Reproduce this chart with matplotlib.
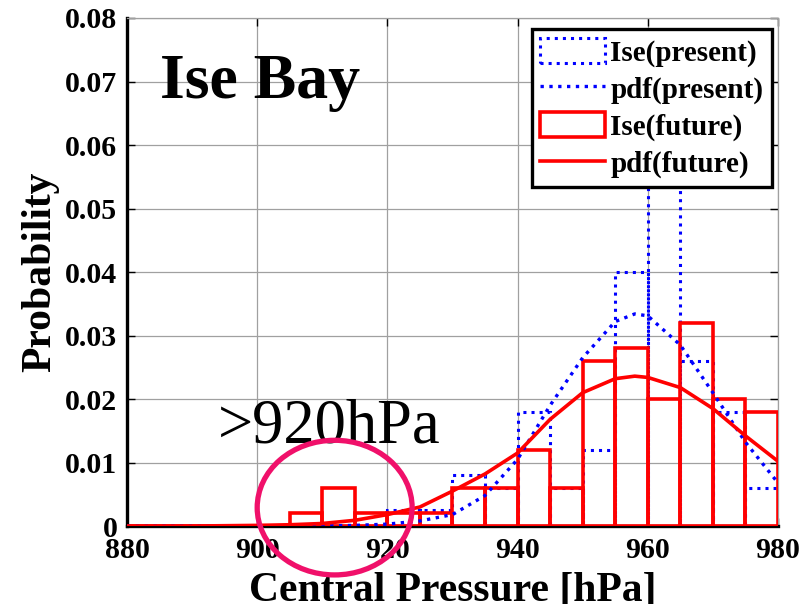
import numpy as np
import matplotlib
matplotlib.use("Agg")
import matplotlib.pyplot as plt
from matplotlib.patches import Ellipse

plt.rcParams['font.family'] = ['Liberation Serif', 'DejaVu Serif']

# histogram bins (left edges, 5 hPa wide)
bin_left = [880, 885, 890, 895, 900, 905, 910, 915, 920, 925,
            930, 935, 940, 945, 950, 955, 960, 965, 970, 975]
present_hist = [0, 0, 0, 0, 0, 0, 0, 0, 0.0025, 0.0025,
                0.008, 0.006, 0.018, 0.006, 0.012, 0.040, 0.058, 0.026, 0.018, 0.006]
future_hist = [0, 0, 0, 0, 0, 0.002, 0.006, 0.002, 0.002, 0.002,
               0.006, 0.006, 0.012, 0.006, 0.026, 0.028, 0.020, 0.032, 0.020, 0.018]

# fitted pdf curves
pdf_x = [880, 890, 900, 905, 910, 915, 920, 925, 930, 935,
         940, 945, 950, 955, 958, 960, 965, 970, 975, 980]
present_pdf = [0, 0, 0, 0, 0, 0.0001, 0.0003, 0.0008, 0.0018, 0.0048,
               0.0105, 0.019, 0.0265, 0.0322, 0.0334, 0.0331, 0.0285, 0.021, 0.0132, 0.0068]
future_pdf = [0, 0, 0.0001, 0.0002, 0.0004, 0.0009, 0.0018, 0.003, 0.0055, 0.0082,
              0.0115, 0.0168, 0.021, 0.0232, 0.0236, 0.0234, 0.0218, 0.0185, 0.0142, 0.0102]

xticks = [880, 900, 920, 940, 960, 980]
yticks = [0, 0.01, 0.02, 0.03, 0.04, 0.05, 0.06, 0.07, 0.08]
ytick_labels = ["0", "0.01", "0.02", "0.03", "0.04", "0.05", "0.06", "0.07", "0.08"]

blue = "#0000ff"
red = "#ff0000"
font_tick = 21.5
font_label = 30

fig = plt.figure(figsize=(8.12, 6.04), dpi=100)
ax = fig.add_axes([0.1564, 0.1291, 0.8017, 0.8411])

ax.set_axisbelow(True)
ax.grid(True, color="#a0a0a0", linewidth=0.9)

b1 = ax.bar(bin_left, present_hist, width=5, align="edge", fill=False,
            edgecolor=blue, linewidth=2.2, linestyle=":", label="Ise(present)", zorder=3)
b2 = ax.bar(bin_left, future_hist, width=5, align="edge", fill=False,
            edgecolor=red, linewidth=2.6, label="Ise(future)", zorder=4)
l1, = ax.plot(pdf_x, present_pdf, color=blue, linewidth=2.4, linestyle=":",
              label="pdf(present)", zorder=5)
l2, = ax.plot(pdf_x, future_pdf, color=red, linewidth=2.6,
              label="pdf(future)", zorder=6)

ax.set_xlim(880, 980)
ax.set_ylim(0, 0.08)
ax.set_xticks(xticks)
ax.set_xticklabels([str(v) for v in xticks], fontsize=font_tick, fontweight="bold")
ax.set_yticks(yticks)
ax.set_yticklabels(ytick_labels, fontsize=font_tick, fontweight="bold")
ax.tick_params(direction="in", length=6, width=1, top=True, right=True)
ax.tick_params(axis="x", pad=8)
ax.tick_params(axis="y", pad=7)

for side in ["left", "bottom"]:
    ax.spines[side].set_linewidth(2.4)
    ax.spines[side].set_color("k")
for side in ["top", "right"]:
    ax.spines[side].set_linewidth(0.9)
    ax.spines[side].set_color("#a0a0a0")

ax.set_xlabel("Central Pressure [hPa]", fontsize=font_label, fontweight="bold", labelpad=6)
ax.set_ylabel("Probability", fontsize=font_label, fontweight="bold", labelpad=4)

ax.text(885.1, 0.0674, "Ise Bay", fontsize=46, fontweight="bold", va="baseline", zorder=7)
ax.text(894.0, 0.0131, ">920hPa", fontsize=45, va="baseline", zorder=7)

ell = Ellipse((911.9, 0.0029), 23.8, 0.0212, fill=False, edgecolor="#f0106a",
              linewidth=3.8, clip_on=False, zorder=8)
ax.add_patch(ell)

leg = ax.legend([b1.patches[0], l1, b2.patches[0], l2],
                ["Ise(present)", "pdf(present)", "Ise(future)", "pdf(future)"],
                loc="upper right", bbox_to_anchor=(0.991, 0.978), borderaxespad=0,
                prop={"size": 21, "weight": "bold"}, handlelength=2.2, handleheight=0.95,
                handletextpad=0.2, labelspacing=0.28, borderpad=0.3,
                fancybox=False, framealpha=1, edgecolor="k")
leg.get_frame().set_linewidth(2.4)
leg.set_zorder(10)

fig.savefig("out.png", dpi=100)
